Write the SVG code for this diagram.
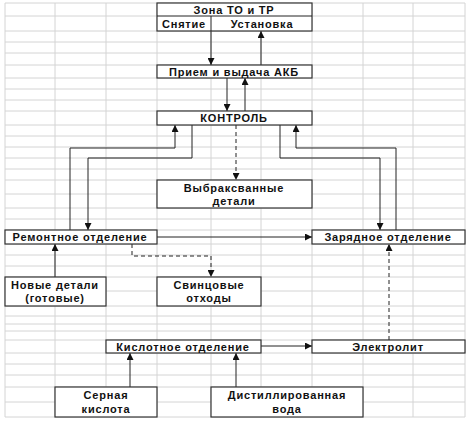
<svg xmlns="http://www.w3.org/2000/svg" width="467" height="428" viewBox="0 0 467 428">
<style>
.grid line{stroke:#d4d4d4;stroke-width:1}
.box{fill:#fff;stroke:#333;stroke-width:1.2}
.t{font-family:"Liberation Sans",Arial,sans-serif;font-weight:bold;font-size:11px;fill:#111;text-anchor:middle;letter-spacing:0.8px}
.c{fill:none;stroke:#222;stroke-width:1}
.d{fill:none;stroke:#222;stroke-width:1;stroke-dasharray:4,3}
</style>
<defs>
<marker id="ah" viewBox="0 0 10 10" refX="10" refY="5" markerWidth="7" markerHeight="7" markerUnits="userSpaceOnUse" orient="auto"><path d="M0,0 L10,5 L0,10 z" fill="#111"/></marker>
</defs>
<rect width="467" height="428" fill="#fff"/>
<g class="grid">
<line x1="5" y1="3" x2="5" y2="417"/><line x1="55" y1="3" x2="55" y2="417"/><line x1="106" y1="3" x2="106" y2="417"/><line x1="157" y1="3" x2="157" y2="417"/><line x1="211" y1="3" x2="211" y2="417"/><line x1="261" y1="3" x2="261" y2="417"/><line x1="312" y1="3" x2="312" y2="417"/><line x1="363" y1="3" x2="363" y2="417"/><line x1="413" y1="3" x2="413" y2="417"/><line x1="465" y1="3" x2="465" y2="417"/>
<line x1="5" y1="3" x2="465" y2="3"/><line x1="5" y1="16" x2="465" y2="16"/><line x1="5" y1="31" x2="465" y2="31"/><line x1="5" y1="42" x2="465" y2="42"/><line x1="5" y1="53" x2="465" y2="53"/><line x1="5" y1="65" x2="465" y2="65"/><line x1="5" y1="78" x2="465" y2="78"/><line x1="5" y1="89" x2="465" y2="89"/><line x1="5" y1="100" x2="465" y2="100"/><line x1="5" y1="111" x2="465" y2="111"/><line x1="5" y1="125" x2="465" y2="125"/><line x1="5" y1="136" x2="465" y2="136"/><line x1="5" y1="147" x2="465" y2="147"/><line x1="5" y1="158" x2="465" y2="158"/><line x1="5" y1="169" x2="465" y2="169"/><line x1="5" y1="180" x2="465" y2="180"/><line x1="5" y1="194" x2="465" y2="194"/><line x1="5" y1="208" x2="465" y2="208"/><line x1="5" y1="219" x2="465" y2="219"/><line x1="5" y1="230" x2="465" y2="230"/><line x1="5" y1="244" x2="465" y2="244"/><line x1="5" y1="255" x2="465" y2="255"/><line x1="5" y1="266" x2="465" y2="266"/><line x1="5" y1="277" x2="465" y2="277"/><line x1="5" y1="291" x2="465" y2="291"/><line x1="5" y1="306" x2="465" y2="306"/><line x1="5" y1="316" x2="465" y2="316"/><line x1="5" y1="324" x2="465" y2="324"/><line x1="5" y1="331" x2="465" y2="331"/><line x1="5" y1="340" x2="465" y2="340"/><line x1="5" y1="353" x2="465" y2="353"/><line x1="5" y1="364" x2="465" y2="364"/><line x1="5" y1="375" x2="465" y2="375"/><line x1="5" y1="387" x2="465" y2="387"/><line x1="5" y1="402" x2="465" y2="402"/><line x1="5" y1="417" x2="465" y2="417"/>
</g>
<g id="connectors">
<path class="c" d="M211,31 V65" marker-end="url(#ah)"/>
<path class="c" d="M261,65 V31" marker-end="url(#ah)"/>
<path class="c" d="M227,78 V111" marker-end="url(#ah)"/>
<path class="c" d="M245,111 V78" marker-end="url(#ah)"/>
<path class="c" d="M70,230 V148 H175 V125" marker-end="url(#ah)"/>
<path class="c" d="M192,125 V158 H88 V230" marker-end="url(#ah)"/>
<path class="c" d="M280,125 V158 H380 V230" marker-end="url(#ah)"/>
<path class="c" d="M396,230 V148 H296 V125" marker-end="url(#ah)"/>
<path class="d" d="M236,125 V180" marker-end="url(#ah)"/>
<path class="c" d="M157,237 H312" marker-end="url(#ah)"/>
<path class="d" d="M132,244 V256 H211 V277" marker-end="url(#ah)"/>
<path class="c" d="M55,277 V244" marker-end="url(#ah)"/>
<path class="d" d="M389,340 V244" marker-end="url(#ah)"/>
<path class="c" d="M261,346 H312" marker-end="url(#ah)"/>
<path class="c" d="M130,387 V353" marker-end="url(#ah)"/>
<path class="c" d="M236,387 V353" marker-end="url(#ah)"/>
</g>
<g id="zona">
<rect class="box" x="157" y="3" width="155" height="28"/>
<line class="c" x1="157" y1="16" x2="312" y2="16" stroke="#333"/>
<line class="c" x1="211" y1="16" x2="211" y2="31" stroke="#333"/>
<text class="t" x="234" y="13.5">Зона ТО и ТР</text>
<text class="t" x="184" y="28">Снятие</text>
<text class="t" x="262" y="28">Установка</text>
</g>
<g id="priem"><rect class="box" x="157" y="65" width="155" height="13"/><text class="t" x="234" y="75.5">Прием и выдача АКБ</text></g>
<g id="kontrol"><rect class="box" x="157" y="111" width="155" height="14"/><text class="t" x="234" y="122">КОНТРОЛЬ</text></g>
<g id="vybrak"><rect class="box" x="157" y="180" width="155" height="28"/><text class="t" x="234" y="192">Выбраксванные</text><text class="t" x="234" y="205">детали</text></g>
<g id="remont"><rect class="box" x="5" y="230" width="152" height="14"/><text class="t" x="80" y="241">Ремонтное отделение</text></g>
<g id="zaryad"><rect class="box" x="312" y="230" width="153" height="14"/><text class="t" x="388" y="241">Зарядное отделение</text></g>
<g id="novye"><rect class="box" x="5" y="277" width="101" height="29"/><text class="t" x="55" y="289">Новые детали</text><text class="t" x="55" y="302">(готовые)</text></g>
<g id="svinec"><rect class="box" x="157" y="277" width="104" height="29"/><text class="t" x="209" y="289">Свинцовые</text><text class="t" x="209" y="302">отходы</text></g>
<g id="kislot"><rect class="box" x="106" y="340" width="155" height="13"/><text class="t" x="183" y="350.5">Кислотное отделение</text></g>
<g id="elektrolit"><rect class="box" x="312" y="340" width="153" height="13"/><text class="t" x="388" y="350.5">Электролит</text></g>
<g id="sernaya"><rect class="box" x="55" y="387" width="102" height="30"/><text class="t" x="106" y="399">Серная</text><text class="t" x="106" y="413">кислота</text></g>
<g id="distil"><rect class="box" x="211" y="387" width="152" height="30"/><text class="t" x="287" y="399">Дистиллированная</text><text class="t" x="287" y="413">вода</text></g>
</svg>
